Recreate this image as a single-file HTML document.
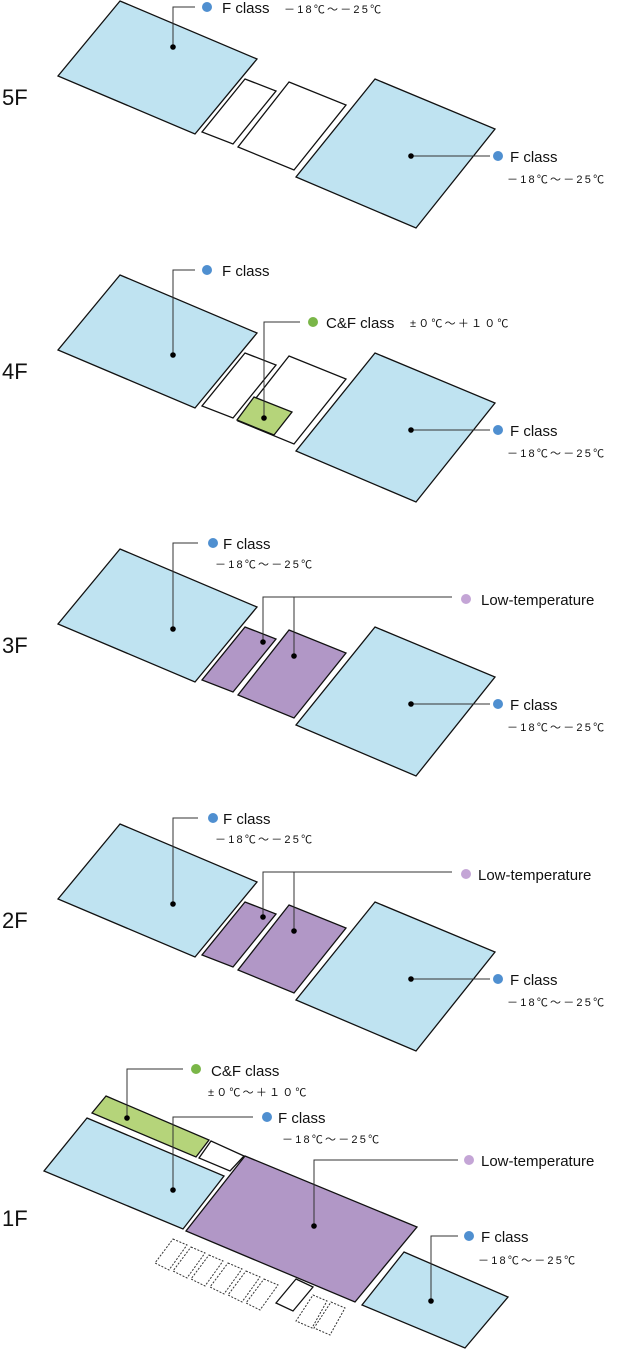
<!DOCTYPE html>
<html><head><meta charset="utf-8"><style>
html,body{margin:0;padding:0;background:#fff;}
svg{display:block;}
text{font-family:"Liberation Sans","Noto Sans CJK JP",sans-serif;fill:#111;}
.lbl{font-size:15px;}
.tmp{font-size:11px;letter-spacing:2.2px;}
.fl{font-size:22px;}
.s{stroke:#111;stroke-width:1.3;stroke-linejoin:miter;}
.b{fill:#bfe3f1;}
.w{fill:#fff;}
.g{fill:#b5d47a;}
.p{fill:#b197c6;}
.ld{fill:none;stroke:#333;stroke-width:1;}
.d{stroke:#333;stroke-width:1;stroke-dasharray:2 1.5;fill:#fff;}
</style></head><body>
<svg width="623" height="1350" viewBox="0 0 623 1350" xmlns="http://www.w3.org/2000/svg">
<defs>
<g id="bl">
<polygon class="s b" points="120,1 257,59 195,134 58,76"/>
<polygon class="s b" points="375,79 495,129 416,228 296,177"/>
</g>
<g id="rlab">
<path class="ld" d="M411,156 H490"/><circle cx="411" cy="156" r="2.8" fill="#000"/>
<circle cx="498" cy="156" r="5" fill="#4f8fd0"/>
<text class="lbl" x="510" y="162">F class</text>
<text class="tmp" x="507" y="183">－18℃～－25℃</text>
</g>
</defs>

<!-- 5F -->
<g>
<use href="#bl"/>
<polygon class="s w" points="245,79 276,91 233,144 202,132"/>
<polygon class="s w" points="289,82 346,105 294,170 238,147"/>
<path class="ld" d="M173,47 V7 H195"/><circle cx="173" cy="47" r="2.8" fill="#000"/>
<circle cx="207" cy="7" r="5" fill="#4f8fd0"/>
<text class="lbl" x="222" y="13">F class</text>
<text class="tmp" x="284" y="13">－18℃～－25℃</text>
<use href="#rlab"/>
<text class="fl" x="2" y="105">5F</text>
</g>

<!-- 4F -->
<g transform="translate(0,274)">
<use href="#bl"/>
<polygon class="s w" points="245,79 276,91 233,144 202,132"/>
<polygon class="s w" points="289,82 346,105 294,170 238,147"/>
<polygon class="s g" points="254,123 292,138 274,161 237,146"/>
<path class="ld" d="M173,81 V-4 H195"/><circle cx="173" cy="81" r="2.8" fill="#000"/>
<circle cx="207" cy="-4" r="5" fill="#4f8fd0"/>
<text class="lbl" x="222" y="2">F class</text>
<path class="ld" d="M264,144 V48 H300"/><circle cx="264" cy="144" r="2.8" fill="#000"/>
<circle cx="313" cy="48" r="5" fill="#7ab648"/>
<text class="lbl" x="326" y="54">C&amp;F class</text>
<text class="tmp" x="410" y="53">±０℃～＋１０℃</text>
<use href="#rlab"/>
<text class="fl" x="2" y="105">4F</text>
</g>

<!-- 3F -->
<g transform="translate(0,548)">
<use href="#bl"/>
<polygon class="s p" points="245,79 276,91 233,144 202,132"/>
<polygon class="s p" points="289,82 346,105 294,170 238,147"/>
<path class="ld" d="M173,81 V-5 H198"/><circle cx="173" cy="81" r="2.8" fill="#000"/>
<circle cx="213" cy="-5" r="5" fill="#4f8fd0"/>
<text class="lbl" x="223" y="1">F class</text>
<text class="tmp" x="215" y="20">－18℃～－25℃</text>
<path class="ld" d="M263,94 V49 H452 M294,108 V49"/>
<circle cx="263" cy="94" r="2.8" fill="#000"/><circle cx="294" cy="108" r="2.8" fill="#000"/>
<circle cx="466" cy="51" r="5" fill="#c4a5d6"/>
<text class="lbl" x="481" y="57">Low-temperature</text>
<use href="#rlab"/>
<text class="fl" x="2" y="105">3F</text>
</g>

<!-- 2F -->
<g transform="translate(0,823)">
<use href="#bl"/>
<polygon class="s p" points="245,79 276,91 233,144 202,132"/>
<polygon class="s p" points="289,82 346,105 294,170 238,147"/>
<path class="ld" d="M173,81 V-5 H198"/><circle cx="173" cy="81" r="2.8" fill="#000"/>
<circle cx="213" cy="-5" r="5" fill="#4f8fd0"/>
<text class="lbl" x="223" y="1">F class</text>
<text class="tmp" x="215" y="20">－18℃～－25℃</text>
<path class="ld" d="M263,94 V49 H452 M294,108 V49"/>
<circle cx="263" cy="94" r="2.8" fill="#000"/><circle cx="294" cy="108" r="2.8" fill="#000"/>
<circle cx="466" cy="51" r="5" fill="#c4a5d6"/>
<text class="lbl" x="478" y="57">Low-temperature</text>
<use href="#rlab"/>
<text class="fl" x="2" y="105">2F</text>
</g>

<!-- 1F -->
<g>
<polygon class="s g" points="106,1096 209,1140 196,1157 92,1113"/>
<polygon class="s b" points="87,1118 224,1176 183,1229 44,1171"/>
<polygon class="s w" points="211,1141 244,1156 230,1171 199,1158"/>
<polygon class="s p" points="245,1156 417,1227 355,1302 186,1231"/>
<polygon class="s b" points="404,1252 508,1297 465,1348 362,1305"/>
<polygon class="s w" points="296,1279 313,1287 293,1311 276,1303"/>
<g>
<polygon class="d" points="173,1239 187,1245 169,1270 155,1263"/>
<polygon class="d" points="191,1247 205,1253 187,1278 173,1271"/>
<polygon class="d" points="209,1255 223,1261 205,1286 191,1279"/>
<polygon class="d" points="228,1263 242,1269 224,1294 210,1287"/>
<polygon class="d" points="246,1271 260,1277 242,1302 228,1295"/>
<polygon class="d" points="264,1279 278,1285 260,1310 246,1303"/>
<polygon class="d" points="313,1295 327,1301 312,1328 296,1321"/>
<polygon class="d" points="331,1302 345,1308 330,1335 314,1328"/>
</g>
<path class="ld" d="M127,1118 V1069 H183"/><circle cx="127" cy="1118" r="2.8" fill="#000"/>
<circle cx="196" cy="1069" r="5" fill="#7ab648"/>
<text class="lbl" x="211" y="1076">C&amp;F class</text>
<text class="tmp" x="208" y="1096">±０℃～＋１０℃</text>
<path class="ld" d="M173,1190 V1117 H253"/><circle cx="173" cy="1190" r="2.8" fill="#000"/>
<circle cx="267" cy="1117" r="5" fill="#4f8fd0"/>
<text class="lbl" x="278" y="1123">F class</text>
<text class="tmp" x="282" y="1143">－18℃～－25℃</text>
<path class="ld" d="M314,1226 V1160 H458"/><circle cx="314" cy="1226" r="2.8" fill="#000"/>
<circle cx="469" cy="1160" r="5" fill="#c4a5d6"/>
<text class="lbl" x="481" y="1166">Low-temperature</text>
<path class="ld" d="M431,1301 V1236 H458"/><circle cx="431" cy="1301" r="2.8" fill="#000"/>
<circle cx="469" cy="1236" r="5" fill="#4f8fd0"/>
<text class="lbl" x="481" y="1242">F class</text>
<text class="tmp" x="478" y="1264">－18℃～－25℃</text>
<text class="fl" x="2" y="1226">1F</text>
</g>
</svg>
</body></html>
